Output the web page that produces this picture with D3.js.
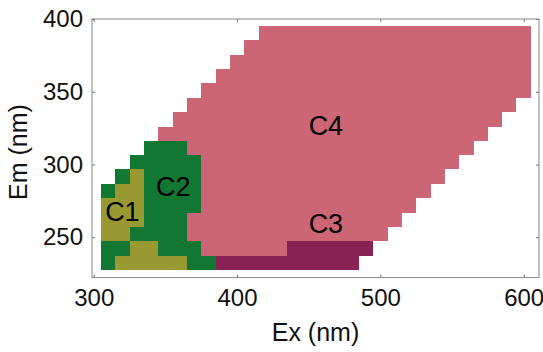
<!DOCTYPE html>
<html>
<head>
<meta charset="utf-8">
<script src="https://cdn.jsdelivr.net/npm/d3@7"></script>
<style>
  html, body { margin: 0; padding: 0; background: #fff; }
  svg { display: block; }
  text { font-family: "Liberation Sans", Arial, Helvetica, sans-serif; }
</style>
</head>
<body>
<svg id="chart" width="543" height="352"></svg>
<script>
// ---- data ----
const xTicks = [300, 400, 500, 600];
const yTicks = [250, 300, 350, 400];
const exStep = 10;        // nm, excitation grid spacing
const emStep = 9.86;      // nm, emission grid spacing
// emission row centres (nm), bottom to top
const emRows = [232.4, 242.3, 252.2, 262.0, 271.9, 281.7, 291.6, 301.5, 311.3,
                321.2, 331.0, 340.9, 350.8, 360.6, 370.5, 380.3, 390.2];
// runs: [emission row index, first Ex (nm), last Ex (nm)]
const c1Runs = [[0,320,360],[1,330,340],[2,310,320],[3,310,330],[4,310,330],[5,320,330],[6,330,330]];
const c2Runs = [[0,310,310],[0,370,380],[1,310,320],[1,350,370],[2,330,360],[3,340,360],
                [4,340,370],[5,310,310],[5,340,370],[6,320,320],[6,340,370],[7,330,370],[8,340,360]];
const c3Runs = [[0,390,480],[1,440,490]];
const c4Runs = [[1,380,430],[2,370,500],[3,370,510],[4,380,520],[5,380,530],[6,380,540],
                [7,380,550],[8,370,560],[9,350,570],[10,360,580],[11,370,590],[12,380,600],
                [13,390,600],[14,400,600],[15,410,600],[16,420,600]];
const clusterNames = ["C1", "C2", "C3", "C4"];
const clusterColors = ["#999933", "#117733", "#882255", "#CC6677"];
// label anchor positions in data units [Ex, Em]
const labelPos = [[320, 267.6], [355.5, 285.2], [462, 259.3], [462, 326.8]];

// ---- chart ----
const svg = d3.select("#chart");
const x = d3.scaleLinear().domain([298.8, 610.7]).range([92, 539]);
const y = d3.scaleLinear().domain([222.3, 400]).range([277.5, 19]);

// shared row edges (midpoints between neighbouring rows)
function rowTop(r) {
  return r < emRows.length - 1 ? (emRows[r] + emRows[r + 1]) / 2 : emRows[r] + emStep / 2;
}
function rowBottom(r) {
  return r > 0 ? (emRows[r - 1] + emRows[r]) / 2 : emRows[r] - emStep / 2;
}

const runsAll = [c1Runs, c2Runs, c3Runs, c4Runs];
const cells = svg.append("g").attr("shape-rendering", "crispEdges");
runsAll.forEach((runs, ci) => {
  cells.selectAll(null).data(runs).enter().append("rect")
    .attr("x", d => Math.round(x(d[1] - exStep / 2)))
    .attr("width", d => Math.round(x(d[2] + exStep / 2)) - Math.round(x(d[1] - exStep / 2)))
    .attr("y", d => Math.round(y(rowTop(d[0]))))
    .attr("height", d => Math.round(y(rowBottom(d[0]))) - Math.round(y(rowTop(d[0]))))
    .attr("fill", clusterColors[ci]);
});

// frame
const [x0, x1] = x.range();
const [y0, y1] = y.range();
svg.append("rect")
  .attr("x", x0).attr("y", y1)
  .attr("width", x1 - x0).attr("height", y0 - y1)
  .attr("fill", "none").attr("stroke", "#9a9a9a").attr("stroke-width", 1.2);

// axes
const fs = 24;
const xAxis = svg.append("g").attr("transform", `translate(0,${y0})`)
  .call(d3.axisBottom(x).tickValues(xTicks).tickSize(-3).tickPadding(11));
const yAxis = svg.append("g").attr("transform", `translate(${x0},0)`)
  .call(d3.axisLeft(y).tickValues(yTicks).tickSize(-3).tickPadding(9));
const xTop = svg.append("g").attr("transform", `translate(0,${y1})`)
  .call(d3.axisTop(x).tickValues(xTicks).tickSize(-3).tickFormat(""));
const yRight = svg.append("g").attr("transform", `translate(${x1},0)`)
  .call(d3.axisRight(y).tickValues(yTicks).tickSize(-3).tickFormat(""));
[xAxis, yAxis, xTop, yRight].forEach(g => {
  g.select(".domain").remove();
  g.selectAll(".tick line").attr("stroke", "#777");
  g.selectAll(".tick text").attr("font-size", fs).attr("fill", "#111")
    .style("font-family", '"Liberation Sans", Arial, sans-serif');
});

// axis titles
svg.append("text")
  .attr("x", (x0 + x1) / 2).attr("y", 341)
  .attr("text-anchor", "middle").attr("font-size", 25).attr("fill", "#111")
  .text("Ex (nm)");
svg.append("text")
  .attr("transform", `translate(27,${152}) rotate(-90)`)
  .attr("text-anchor", "middle").attr("font-size", 25).attr("fill", "#111")
  .text("Em (nm)");

// cluster labels
svg.selectAll(null).data(clusterNames).enter().append("text")
  .attr("x", (d, i) => x(labelPos[i][0]))
  .attr("y", (d, i) => y(labelPos[i][1]) + 9.7)
  .attr("text-anchor", "middle").attr("font-size", 27).attr("fill", "#000")
  .text(d => d);
</script>
</body>
</html>
